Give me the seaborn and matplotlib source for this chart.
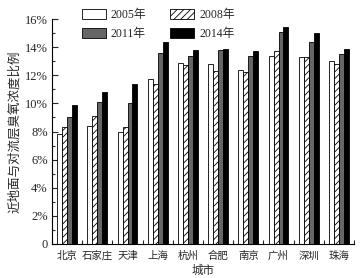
import numpy as np
import pandas as pd
import matplotlib
matplotlib.use("Agg")
import matplotlib.pyplot as plt
import seaborn as sns
from matplotlib.ticker import MultipleLocator, FixedLocator, FuncFormatter
from matplotlib.patches import Patch

cities = ["北京", "石家庄", "天津", "上海", "杭州", "合肥", "南京", "广州", "深圳", "珠海"]
years = ["2005年", "2008年", "2011年", "2014年"]
v2005 = [7.8, 8.4, 8.0, 11.7, 12.9, 12.8, 12.4, 13.4, 13.3, 13.0]
v2008 = [8.3, 9.1, 8.3, 11.4, 12.7, 12.3, 12.2, 13.7, 13.3, 12.8]
v2011 = [9.0, 10.1, 10.0, 13.6, 13.4, 13.8, 13.4, 15.1, 14.4, 13.5]
v2014 = [9.9, 10.8, 11.4, 14.4, 13.8, 13.9, 13.7, 15.4, 15.0, 13.9]

sns.set_style("ticks")
plt.rcParams['font.family'] = ['Liberation Serif', 'Noto Sans CJK SC']
plt.rcParams['hatch.linewidth'] = 0.6

rows = []
for yr, vals in zip(years, [v2005, v2008, v2011, v2014]):
    for c, v in zip(cities, vals):
        rows.append({"城市": c, "年份": yr, "值": v})
df = pd.DataFrame(rows)

fig = plt.figure(figsize=(3.61, 2.78), dpi=100)
ax = fig.add_axes([52/361, 1-244/278, (354-52)/361, (244-19)/278])

palette = {"2005年": "white", "2008年": "white", "2011年": "#666666", "2014年": "black"}
sns.barplot(data=df, x="城市", y="值", hue="年份", palette=palette, width=0.65,
            edgecolor="black", linewidth=0.6, ax=ax, legend=False, errorbar=None)

for i, cont in enumerate(ax.containers):
    if i == 1:
        for b in cont:
            b.set_hatch("/////")

ax.set_ylim(0, 16)
ax.set_xlim(-0.5, len(cities) - 0.5)
ax.yaxis.set_major_locator(MultipleLocator(2))
ax.yaxis.set_minor_locator(MultipleLocator(1))
ax.yaxis.set_major_formatter(FuncFormatter(lambda v, p: "0" if v == 0 else f"{int(v)}%"))
ax.xaxis.set_minor_locator(FixedLocator(np.arange(-0.5, len(cities), 1.0)))
ax.tick_params(axis='x', which='major', length=0, labelsize=7.5, pad=5)
ax.tick_params(axis='x', which='minor', direction='in', length=3, width=0.8)
ax.tick_params(axis='y', which='major', direction='in', length=4, width=0.8, labelsize=9, pad=3)
ax.tick_params(axis='y', which='minor', direction='in', length=2, width=0.8)
for lbl in ax.get_xticklabels():
    lbl.set_family(['Noto Sans CJK SC'])
sns.despine(ax=ax)
for s in ["left", "bottom"]:
    ax.spines[s].set_linewidth(0.8)
    ax.spines[s].set_color("black")

ax.set_xlabel("城市", fontsize=8.3, family=['Noto Sans CJK SC'], labelpad=2)
ax.set_ylabel("近地面与对流层臭氧浓度比例", fontsize=9, family=['Noto Sans CJK SC'], labelpad=3)

h = {
    "2005年": Patch(facecolor="white", edgecolor="black", linewidth=0.6),
    "2008年": Patch(facecolor="white", edgecolor="black", linewidth=0.6, hatch="/////"),
    "2011年": Patch(facecolor="#666666", edgecolor="black", linewidth=0.6),
    "2014年": Patch(facecolor="black", edgecolor="black", linewidth=0.6),
}
order = ["2005年", "2011年", "2008年", "2014年"]
leg = fig.legend([h[k] for k in order], order, loc="upper left",
                 bbox_to_anchor=(82/361, 1 - 9/278),
                 ncol=2, frameon=False, handlelength=2.05, handleheight=0.85,
                 columnspacing=2.0, labelspacing=0.6, handletextpad=0.4,
                 borderpad=0, borderaxespad=0,
                 prop={'family': ['Liberation Serif', 'Noto Sans CJK SC'], 'size': 8.5})

fig.savefig("out.png", dpi=100)
